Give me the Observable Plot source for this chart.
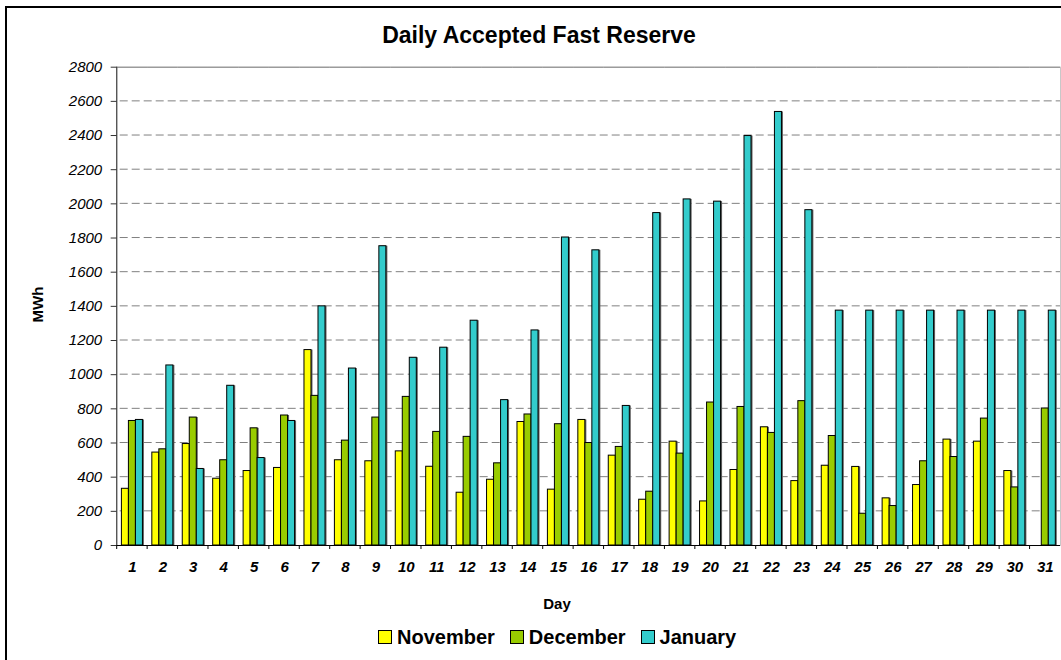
<!DOCTYPE html>
<html>
<head>
<meta charset="utf-8">
<script src="https://cdn.jsdelivr.net/npm/d3@7"></script>
<script src="https://cdn.jsdelivr.net/npm/@observablehq/plot@0.6"></script>
<style>
  html, body { margin: 0; padding: 0; background: #fff; }
  #wrap { position: relative; width: 1061px; height: 660px; overflow: hidden; background: #fff; font-family: "Liberation Sans", Arial, sans-serif; }
  #border { position: absolute; left: 5px; top: 6px; width: 1200px; height: 800px; border-left: 2px solid #000; border-top: 2px solid #000; }
  #chart { position: absolute; left: 0; top: 0; }
  #title { position: absolute; left: 0; top: 24px; width: 1078px; text-align: center; font-weight: bold; font-size: 23px; line-height: 23px; color: #000; }
  #xlabel { position: absolute; left: 457px; top: 596px; width: 200px; text-align: center; font-weight: bold; font-size: 15px; line-height: 15px; }
  #ylabel { position: absolute; left: -63px; top: 297px; width: 200px; text-align: center; font-weight: bold; font-size: 15px; line-height: 15px; transform: rotate(-90deg); }
  #legend { position: absolute; left: 378px; top: 627px; display: flex; align-items: center; font-weight: bold; font-size: 20px; line-height: 20px; white-space: nowrap; }
  #legend .item { display: flex; align-items: center; margin-right: 15px; }
  #legend .sw { width: 12px; height: 12px; border: 1px solid #000; margin-right: 5px; }
</style>
</head>
<body>
<div id="wrap">
  <div id="border"></div>
  <div id="chart"></div>
  <div id="title">Daily Accepted Fast Reserve</div>
  <div id="ylabel">MWh</div>
  <div id="xlabel">Day</div>
  <div id="legend"></div>
</div>
<script>
const days = [1,2,3,4,5,6,7,8,9,10,11,12,13,14,15,16,17,18,19,20,21,22,23,24,25,26,27,28,29,30,31];
const months = ["November", "December", "January"];
const monthColors = ["#FFFF00", "#99CC00", "#33CCCC"];
const november = [332,544,594,391,436,454,1144,499,493,551,461,309,385,723,327,735,526,268,608,258,442,692,377,467,460,276,354,620,608,436,null];
const december = [729,563,749,499,686,761,876,614,749,870,665,636,481,767,710,600,577,315,538,837,811,659,845,641,186,231,493,518,743,340,802];
const january = [735,1054,448,935,512,729,1400,1036,1752,1099,1158,1316,851,1259,1803,1728,817,1946,2026,2013,2397,2538,1963,1375,1375,1375,1375,1375,1375,1375,1375];
const yTicks = [0,200,400,600,800,1000,1200,1400,1600,1800,2000,2200,2400,2600,2800];

const series = [november, december, january];
const data = [];
days.forEach((d, i) => {
  months.forEach((m, j) => {
    const v = series[j][i];
    if (v != null) data.push({day: d, month: m, value: v});
  });
});

const plot = Plot.plot({
  width: 1061,
  height: 660,
  marginTop: 66.7,
  marginBottom: 115,
  marginLeft: 116.7,
  marginRight: 1,
  style: {fontFamily: "'Liberation Sans', Arial, sans-serif", background: "transparent", color: "#000"},
  fx: {domain: days, padding: 0, round: false, label: null},
  x: {domain: months, paddingInner: 0, paddingOuter: 0.67, round: false, axis: null},
  y: {domain: [0, 2800], label: null},
  color: {domain: months, range: monthColors},
  marks: [
    Plot.frame({facet: "super", stroke: "#c8c8c8"}),
    Plot.ruleY([2800], {stroke: "#808080"}),
    Plot.barY(data, {fx: "day", x: "month", y: "value", fill: "#606060", dx: 1.5, inset: 0}),
    Plot.barY(data, {fx: "day", x: "month", y: "value", fill: "month", stroke: "#000", strokeWidth: 1, inset: 0}),
    Plot.ruleY([0], {stroke: "#000"}),
    Plot.axisY({ticks: yTicks, tickFormat: d => String(d), tickSize: 6, tickPadding: 9, fontSize: 15, fontStyle: "italic", label: null, stroke: "#333"}),
    Plot.axisFx({anchor: "bottom", tickSize: 0, tickPadding: 16, fontSize: 15, fontStyle: "italic", fontWeight: "bold", label: null})
  ]
});
document.getElementById("chart").appendChild(plot);

// continuous dashed grid, axis line and category boundary ticks, positioned through Plot's own scales
const fx = plot.scale("fx");
const y = plot.scale("y");
const svg = d3.select(plot);
const y0 = y.apply(0);
const xLeft = fx.apply(days[0]);
const xRight = fx.apply(days[days.length - 1]) + fx.bandwidth;
const grid = svg.insert("g", "g").attr("stroke", "#808080").attr("stroke-dasharray", "8,4");
yTicks.filter(t => t > 0 && t < 2800).forEach(t => {
  grid.append("line").attr("x1", xLeft + 3).attr("x2", xRight).attr("y1", y.apply(t)).attr("y2", y.apply(t));
});
const g = svg.append("g").attr("stroke", "#000").attr("stroke-width", 1);
g.append("line")
  .attr("x1", xLeft).attr("x2", xLeft)
  .attr("y1", y.apply(2800)).attr("y2", y0).attr("stroke", "#333");
days.forEach(d => {
  const xx = fx.apply(d);
  g.append("line").attr("x1", xx).attr("x2", xx).attr("y1", y0).attr("y2", y0 + 4);
});

// legend
const legend = d3.select("#legend");
months.forEach((m, i) => {
  const it = legend.append("div").attr("class", "item");
  it.append("div").attr("class", "sw").style("background", monthColors[i]);
  it.append("span").text(m);
});
</script>
</body>
</html>
